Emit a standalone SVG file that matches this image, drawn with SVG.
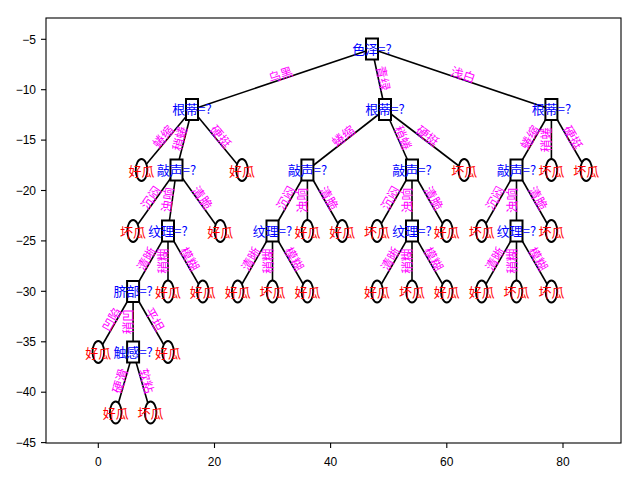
<svg xmlns="http://www.w3.org/2000/svg" width="640" height="480" viewBox="0 0 640 480">
<style>
.ax{fill:none;stroke:#000;stroke-width:1.1}
.tk{stroke:#000;stroke-width:1.1}
.tl{font-family:"Liberation Sans","DejaVu Sans",sans-serif;font-size:12px;fill:#000}
.e{stroke:#000;stroke-width:1.6;fill:none}
.bx{fill:#fff;stroke:#000;stroke-width:2}
.lf{fill:#fff;stroke:#000;stroke-width:1.8}
.nt{font-family:"Noto Sans CJK SC","Noto Sans",sans-serif;font-size:13px;fill:#0000ff;text-anchor:middle;dominant-baseline:central}
.lt{font-family:"Noto Sans CJK SC","Noto Sans",sans-serif;font-size:13px;fill:#ff0000;text-anchor:middle;dominant-baseline:central}
.el{font-family:"Noto Sans CJK SC","Noto Sans",sans-serif;font-size:12.5px;fill:#ff00ff;text-anchor:middle;dominant-baseline:central}
</style>
<rect width="640" height="480" fill="#fff"/>
<g id="axes">
<rect class="ax" x="46" y="18" width="575" height="425"/>
<g class="tk">
<line x1="41" y1="39.3" x2="46" y2="39.3"/><line x1="41" y1="89.7" x2="46" y2="89.7"/><line x1="41" y1="140.1" x2="46" y2="140.1"/><line x1="41" y1="190.5" x2="46" y2="190.5"/><line x1="41" y1="240.9" x2="46" y2="240.9"/><line x1="41" y1="291.3" x2="46" y2="291.3"/><line x1="41" y1="341.8" x2="46" y2="341.8"/><line x1="41" y1="392.2" x2="46" y2="392.2"/><line x1="41" y1="442.6" x2="46" y2="442.6"/>
<line x1="98.3" y1="443" x2="98.3" y2="448"/><line x1="214.5" y1="443" x2="214.5" y2="448"/><line x1="330.6" y1="443" x2="330.6" y2="448"/><line x1="446.8" y1="443" x2="446.8" y2="448"/><line x1="563" y1="443" x2="563" y2="448"/>
</g>
<g class="tl" text-anchor="end">
<text x="36" y="43.5">−5</text><text x="36" y="93.9">−10</text><text x="36" y="144.3">−15</text><text x="36" y="194.7">−20</text><text x="36" y="245.1">−25</text><text x="36" y="295.5">−30</text><text x="36" y="346">−35</text><text x="36" y="396.4">−40</text><text x="36" y="446.8">−45</text>
</g>
<g class="tl" text-anchor="middle">
<text x="98.3" y="466">0</text><text x="214.5" y="466">20</text><text x="330.6" y="466">40</text><text x="446.8" y="466">60</text><text x="563" y="466">80</text>
</g>
</g>
<g id="connectors" class="e">
<line x1="372" y1="49" x2="192" y2="109.5"/><line x1="372" y1="49" x2="385" y2="109.5"/><line x1="372" y1="49" x2="551.4" y2="109.5"/>
<line x1="192" y1="109.5" x2="141.5" y2="170"/><line x1="192" y1="109.5" x2="176.5" y2="170"/><line x1="192" y1="109.5" x2="242" y2="170"/>
<line x1="385" y1="109.5" x2="307.4" y2="170"/><line x1="385" y1="109.5" x2="412" y2="170"/><line x1="385" y1="109.5" x2="464.2" y2="170"/>
<line x1="551.4" y1="109.5" x2="516.5" y2="170"/><line x1="551.4" y1="109.5" x2="551.4" y2="170"/><line x1="551.4" y1="109.5" x2="586.2" y2="170"/>
<line x1="176.5" y1="170" x2="133.1" y2="231"/><line x1="176.5" y1="170" x2="168" y2="231"/><line x1="176.5" y1="170" x2="220.3" y2="231"/>
<line x1="307.4" y1="170" x2="272.5" y2="231"/><line x1="307.4" y1="170" x2="307.4" y2="231"/><line x1="307.4" y1="170" x2="342.2" y2="231"/>
<line x1="412" y1="170" x2="377.1" y2="231"/><line x1="412" y1="170" x2="412" y2="231"/><line x1="412" y1="170" x2="446.8" y2="231"/>
<line x1="516.5" y1="170" x2="481.7" y2="231"/><line x1="516.5" y1="170" x2="516.5" y2="231"/><line x1="516.5" y1="170" x2="551.4" y2="231"/>
<line x1="168" y1="231" x2="133.1" y2="291.5"/><line x1="168" y1="231" x2="168" y2="291.5"/><line x1="168" y1="231" x2="202.8" y2="291.5"/>
<line x1="272.5" y1="231" x2="237.7" y2="291.5"/><line x1="272.5" y1="231" x2="272.5" y2="291.5"/><line x1="272.5" y1="231" x2="307.4" y2="291.5"/>
<line x1="412" y1="231" x2="377.1" y2="291.5"/><line x1="412" y1="231" x2="412" y2="291.5"/><line x1="412" y1="231" x2="446.8" y2="291.5"/>
<line x1="516.5" y1="231" x2="481.7" y2="291.5"/><line x1="516.5" y1="231" x2="516.5" y2="291.5"/><line x1="516.5" y1="231" x2="551.4" y2="291.5"/>
<line x1="133.1" y1="291.5" x2="98.3" y2="352"/><line x1="133.1" y1="291.5" x2="133.1" y2="352"/><line x1="133.1" y1="291.5" x2="168" y2="352"/>
<line x1="133.1" y1="352" x2="115.7" y2="412.5"/><line x1="133.1" y1="352" x2="150.6" y2="412.5"/>
</g>
<g id="nodes">
<g id="n0"><rect class="bx" x="366" y="38.5" width="12" height="21"/><text class="nt" x="372" y="48">色泽=?</text></g>
<g id="n1"><rect class="bx" x="186" y="99" width="12" height="21"/><text class="nt" x="192" y="108.5">根蒂=?</text></g>
<g id="n2"><rect class="bx" x="379" y="99" width="12" height="21"/><text class="nt" x="385" y="108.5">根蒂=?</text></g>
<g id="n3"><rect class="bx" x="545.4" y="99" width="12" height="21"/><text class="nt" x="551.4" y="108.5">根蒂=?</text></g>
<g id="n4"><rect class="bx" x="170.5" y="159.5" width="12" height="21"/><text class="nt" x="176.5" y="169">敲声=?</text></g>
<g id="n5"><rect class="bx" x="301.4" y="159.5" width="12" height="21"/><text class="nt" x="307.4" y="169">敲声=?</text></g>
<g id="n6"><rect class="bx" x="406" y="159.5" width="12" height="21"/><text class="nt" x="412" y="169">敲声=?</text></g>
<g id="n7"><rect class="bx" x="510.5" y="159.5" width="12" height="21"/><text class="nt" x="516.5" y="169">敲声=?</text></g>
<g id="n8"><rect class="bx" x="162" y="220.5" width="12" height="21"/><text class="nt" x="168" y="230">纹理=?</text></g>
<g id="n9"><rect class="bx" x="266.5" y="220.5" width="12" height="21"/><text class="nt" x="272.5" y="230">纹理=?</text></g>
<g id="n10"><rect class="bx" x="406" y="220.5" width="12" height="21"/><text class="nt" x="412" y="230">纹理=?</text></g>
<g id="n11"><rect class="bx" x="510.5" y="220.5" width="12" height="21"/><text class="nt" x="516.5" y="230">纹理=?</text></g>
<g id="n12"><rect class="bx" x="127.1" y="281" width="12" height="21"/><text class="nt" x="133.1" y="290.5">脐部=?</text></g>
<g id="n13"><rect class="bx" x="127.1" y="341.5" width="12" height="21"/><text class="nt" x="133.1" y="351">触感=?</text></g>
<g id="l1"><ellipse class="lf" cx="141.5" cy="170" rx="5.8" ry="11"/><text class="lt" x="141.5" y="170">好瓜</text></g>
<g id="l2"><ellipse class="lf" cx="242" cy="170" rx="5.8" ry="11"/><text class="lt" x="242" y="170">好瓜</text></g>
<g id="l3"><ellipse class="lf" cx="464.2" cy="170" rx="5.8" ry="11"/><text class="lt" x="464.2" y="170">坏瓜</text></g>
<g id="l4"><ellipse class="lf" cx="551.4" cy="170" rx="5.8" ry="11"/><text class="lt" x="551.4" y="170">坏瓜</text></g>
<g id="l5"><ellipse class="lf" cx="586.2" cy="170" rx="5.8" ry="11"/><text class="lt" x="586.2" y="170">坏瓜</text></g>
<g id="l6"><ellipse class="lf" cx="133.1" cy="231" rx="5.8" ry="11"/><text class="lt" x="133.1" y="231">坏瓜</text></g>
<g id="l7"><ellipse class="lf" cx="220.3" cy="231" rx="5.8" ry="11"/><text class="lt" x="220.3" y="231">好瓜</text></g>
<g id="l8"><ellipse class="lf" cx="307.4" cy="231" rx="5.8" ry="11"/><text class="lt" x="307.4" y="231">好瓜</text></g>
<g id="l9"><ellipse class="lf" cx="342.2" cy="231" rx="5.8" ry="11"/><text class="lt" x="342.2" y="231">好瓜</text></g>
<g id="l10"><ellipse class="lf" cx="377.1" cy="231" rx="5.8" ry="11"/><text class="lt" x="377.1" y="231">坏瓜</text></g>
<g id="l11"><ellipse class="lf" cx="446.8" cy="231" rx="5.8" ry="11"/><text class="lt" x="446.8" y="231">好瓜</text></g>
<g id="l12"><ellipse class="lf" cx="481.7" cy="231" rx="5.8" ry="11"/><text class="lt" x="481.7" y="231">坏瓜</text></g>
<g id="l13"><ellipse class="lf" cx="551.4" cy="231" rx="5.8" ry="11"/><text class="lt" x="551.4" y="231">坏瓜</text></g>
<g id="l14"><ellipse class="lf" cx="168" cy="291.5" rx="5.8" ry="11"/><text class="lt" x="168" y="291.5">好瓜</text></g>
<g id="l15"><ellipse class="lf" cx="202.8" cy="291.5" rx="5.8" ry="11"/><text class="lt" x="202.8" y="291.5">好瓜</text></g>
<g id="l16"><ellipse class="lf" cx="237.7" cy="291.5" rx="5.8" ry="11"/><text class="lt" x="237.7" y="291.5">好瓜</text></g>
<g id="l17"><ellipse class="lf" cx="272.5" cy="291.5" rx="5.8" ry="11"/><text class="lt" x="272.5" y="291.5">坏瓜</text></g>
<g id="l18"><ellipse class="lf" cx="307.4" cy="291.5" rx="5.8" ry="11"/><text class="lt" x="307.4" y="291.5">好瓜</text></g>
<g id="l19"><ellipse class="lf" cx="377.1" cy="291.5" rx="5.8" ry="11"/><text class="lt" x="377.1" y="291.5">好瓜</text></g>
<g id="l20"><ellipse class="lf" cx="412" cy="291.5" rx="5.8" ry="11"/><text class="lt" x="412" y="291.5">坏瓜</text></g>
<g id="l21"><ellipse class="lf" cx="446.8" cy="291.5" rx="5.8" ry="11"/><text class="lt" x="446.8" y="291.5">好瓜</text></g>
<g id="l22"><ellipse class="lf" cx="481.7" cy="291.5" rx="5.8" ry="11"/><text class="lt" x="481.7" y="291.5">好瓜</text></g>
<g id="l23"><ellipse class="lf" cx="516.5" cy="291.5" rx="5.8" ry="11"/><text class="lt" x="516.5" y="291.5">坏瓜</text></g>
<g id="l24"><ellipse class="lf" cx="551.4" cy="291.5" rx="5.8" ry="11"/><text class="lt" x="551.4" y="291.5">坏瓜</text></g>
<g id="l25"><ellipse class="lf" cx="98.3" cy="352" rx="5.8" ry="11"/><text class="lt" x="98.3" y="352">好瓜</text></g>
<g id="l26"><ellipse class="lf" cx="168" cy="352" rx="5.8" ry="11"/><text class="lt" x="168" y="352">好瓜</text></g>
<g id="l27"><ellipse class="lf" cx="115.7" cy="412.5" rx="5.8" ry="11"/><text class="lt" x="115.7" y="412.5">好瓜</text></g>
<g id="l28"><ellipse class="lf" cx="150.6" cy="412.5" rx="5.8" ry="11"/><text class="lt" x="150.6" y="412.5">坏瓜</text></g>
</g>
<g id="edge-labels" class="el">
<text transform="translate(282,79.25) rotate(-18.58) translate(0,-5.5)">乌黑</text>
<text transform="translate(378.5,79.25) rotate(77.87) translate(0,-5.5)">青绿</text>
<text transform="translate(461.7,79.25) rotate(18.64) translate(0,-5.5)">浅白</text>
<text transform="translate(166.75,139.75) rotate(-50.15) translate(0,-5.5)">蜷缩</text>
<text transform="translate(184.25,139.75) rotate(-75.63) translate(0,-5.5)">稍蜷</text>
<text transform="translate(217,139.75) rotate(50.43) translate(0,-5.5)">硬挺</text>
<text transform="translate(346.2,139.75) rotate(-37.94) translate(0,-5.5)">蜷缩</text>
<text transform="translate(398.5,139.75) rotate(65.95) translate(0,-5.5)">稍蜷</text>
<text transform="translate(424.6,139.75) rotate(37.37) translate(0,-5.5)">硬挺</text>
<text transform="translate(533.95,139.75) rotate(-60.02) translate(0,-5.5)">蜷缩</text>
<text transform="translate(551.4,139.75) rotate(-90) translate(0,-5.5)">稍蜷</text>
<text transform="translate(568.8,139.75) rotate(60.09) translate(0,-5.5)">硬挺</text>
<text transform="translate(154.8,200.5) rotate(-54.57) translate(0,-5.5)">沉闷</text>
<text transform="translate(172.25,200.5) rotate(-82.07) translate(0,-5.5)">浊响</text>
<text transform="translate(198.4,200.5) rotate(54.32) translate(0,-5.5)">清脆</text>
<text transform="translate(289.95,200.5) rotate(-60.22) translate(0,-5.5)">沉闷</text>
<text transform="translate(307.4,200.5) rotate(-90) translate(0,-5.5)">浊响</text>
<text transform="translate(324.8,200.5) rotate(60.3) translate(0,-5.5)">清脆</text>
<text transform="translate(394.55,200.5) rotate(-60.22) translate(0,-5.5)">沉闷</text>
<text transform="translate(412,200.5) rotate(-90) translate(0,-5.5)">浊响</text>
<text transform="translate(429.4,200.5) rotate(60.3) translate(0,-5.5)">清脆</text>
<text transform="translate(499.1,200.5) rotate(-60.3) translate(0,-5.5)">沉闷</text>
<text transform="translate(516.5,200.5) rotate(-90) translate(0,-5.5)">浊响</text>
<text transform="translate(533.95,200.5) rotate(60.22) translate(0,-5.5)">清脆</text>
<text transform="translate(150.55,261.25) rotate(-60.02) translate(0,-5.5)">清晰</text>
<text transform="translate(168,261.25) rotate(-90) translate(0,-5.5)">稍糊</text>
<text transform="translate(185.4,261.25) rotate(60.09) translate(0,-5.5)">模糊</text>
<text transform="translate(255.1,261.25) rotate(-60.09) translate(0,-5.5)">清晰</text>
<text transform="translate(272.5,261.25) rotate(-90) translate(0,-5.5)">稍糊</text>
<text transform="translate(289.95,261.25) rotate(60.02) translate(0,-5.5)">模糊</text>
<text transform="translate(394.55,261.25) rotate(-60.02) translate(0,-5.5)">清晰</text>
<text transform="translate(412,261.25) rotate(-90) translate(0,-5.5)">稍糊</text>
<text transform="translate(429.4,261.25) rotate(60.09) translate(0,-5.5)">模糊</text>
<text transform="translate(499.1,261.25) rotate(-60.09) translate(0,-5.5)">清晰</text>
<text transform="translate(516.5,261.25) rotate(-90) translate(0,-5.5)">稍糊</text>
<text transform="translate(533.95,261.25) rotate(60.02) translate(0,-5.5)">模糊</text>
<text transform="translate(115.7,321.75) rotate(-60.09) translate(0,-5.5)">凹陷</text>
<text transform="translate(133.1,321.75) rotate(-90) translate(0,-5.5)">稍凹</text>
<text transform="translate(150.55,321.75) rotate(60.02) translate(0,-5.5)">平坦</text>
<text transform="translate(124.4,382.25) rotate(-73.95) translate(0,-5.5)">硬滑</text>
<text transform="translate(141.85,382.25) rotate(73.86) translate(0,-5.5)">软粘</text>
</g>
</svg>
